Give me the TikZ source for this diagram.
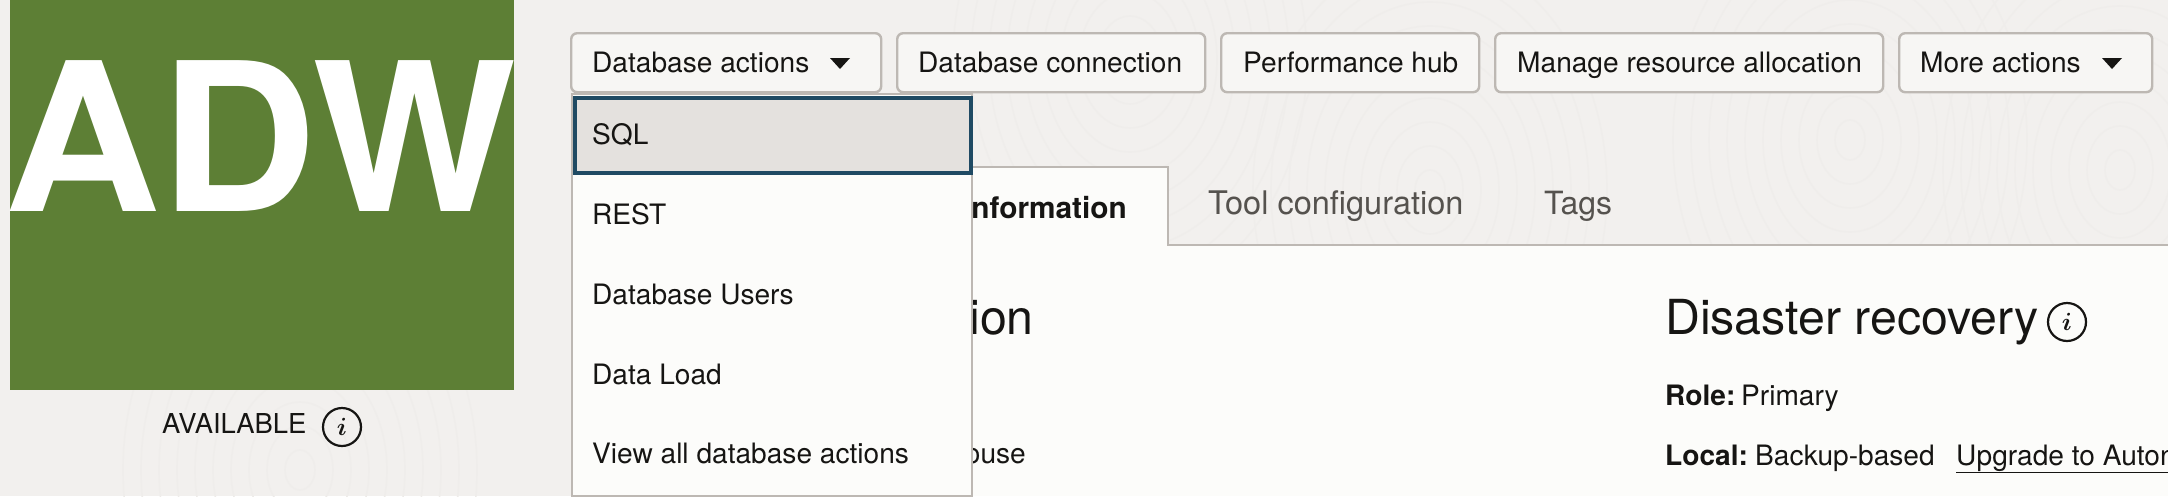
\documentclass[tikz,border=0pt]{standalone}
\usepackage{fontspec}
\setmainfont{TeX Gyre Heros}
\definecolor{pagebg}{HTML}{F2F0EE}
\definecolor{swirl}{HTML}{EDEBE8}
\definecolor{panelbg}{HTML}{FCFCFA}
\definecolor{btnbg}{HTML}{F7F6F4}
\definecolor{edge}{HTML}{BDB8B3}
\definecolor{adwgreen}{HTML}{5D7F35}
\definecolor{selbg}{HTML}{E4E1DE}
\definecolor{seledge}{HTML}{1F4A63}
\definecolor{ink}{HTML}{161513}
\definecolor{tabink}{HTML}{55524E}
\newcommand{\fsz}[1]{\fontsize{#1}{#1}\selectfont}
\tikzset{
	lbl/.style={anchor=base west,inner sep=0pt,text=ink,font=\fsz{28.1}},
	lblr/.style={lbl,anchor=base east},
	btn/.style={anchor=north west,draw=edge,fill=btnbg,line width=2.4pt,rounded corners=6pt,minimum height=59pt,inner sep=0pt},
	tri/.style={fill=ink},
	infoc/.style={circle,draw=ink,line width=2.2pt,minimum size=38pt,inner sep=0pt,font=\fsz{34}\boldmath,text=ink}
}
\begin{document}
\begin{tikzpicture}[x=1pt,y=-1pt]
\useasboundingbox (0,0) rectangle (2168,496);
\clip (0,0) rectangle (2168,496);
\fill[pagebg] (0,0) rectangle (2168,496);
% faint swirls of the page
\foreach \cx/\cy in {1430/190,1130/60,1850/140,300/470,2120/170}{
	\foreach \r in {20,44,...,236}
		\draw[swirl,line width=1.6pt] (\cx,\cy) ellipse[x radius=0.75*\r,y radius=\r];
}
\fill[pagebg,opacity=0.5] (0,0) rectangle (2168,496);

% badge
\node[anchor=north west,fill=adwgreen,minimum width=504pt,minimum height=390pt,inner sep=0pt] (badge) at (10,0) {};
\node[anchor=base west,inner sep=0pt,text=white,font=\fsz{207}\bfseries,xscale=1.045,transform shape] (adw) at (4,211) {ADW};
\node[lbl,font=\fsz{27.4}] (avail) at (162,433) {AVAILABLE};
\node[infoc] (availinfo) at (342,427) {$i$};

% buttons
\foreach \n/\x/\w in {a/570/310,b/896/308,c/1220/258,d/1494/388,e/1898/253}
	\node[btn,minimum width=\w pt] (btn\n) at (\x,32) {};
\foreach \n/\x/\t in {a/592/Database actions,b/918/Database connection,c/1243/Performance hub,d/1517/Manage resource allocation,e/1920/More actions}
	\node[lbl] (txt\n) at (\x,72) {\t};
\foreach \n/\x in {a/840,e/2112}
	\fill[tri] (\x-10,58)--(\x+10,58)--(\x,69)--cycle;

% tabs and panel
\fill[panelbg] (640,245) rectangle (2168,496);
\fill[panelbg] (640,167) rectangle (1168,245);
\draw[edge,line width=2pt] (640,167)--(1168,167)--(1168,245)--(2168,245);
\node[lblr,font=\fsz{29.8}\bfseries] (tabinfo) at (1127,218) {information};
\node[lbl,text=tabink,font=\fsz{32.5}] (tabtool) at (1208,214) {Tool configuration};
\node[lbl,text=tabink,font=\fsz{32}] (tabtags) at (1544,214) {Tags};

% panel text
\node[lblr,font=\fsz{48.3}] (headl) at (1034,334) {ion};
\node[lblr] (house) at (1026,463) {house};
\node[lbl,font=\fsz{48.3}] (headr) at (1665,334) {Disaster recovery};
\node[infoc] (drinfo) at (2067,322) {$i$};
\node[lbl,font=\fsz{28.1}\bfseries] (role) at (1665,405) {Role:};
\node[lbl] (roleval) at (1741,405) {Primary};
\node[lbl,font=\fsz{28.1}\bfseries] (local) at (1665,465) {Local:};
\node[lbl] (localval) at (1755,465) {Backup-based};
\node[lbl] (upg) at (1956,465) {\underline{Upgrade to Auton}};

% dropdown
\node[anchor=north west,draw=edge,fill=panelbg,line width=2pt,minimum width=400pt,minimum height=402pt,inner sep=0pt] (menu) at (571,93) {};
\node[anchor=north west,draw=seledge,fill=selbg,line width=4.2pt,minimum width=396pt,minimum height=75pt,inner sep=0pt] (sel) at (573,96) {};
\foreach \n/\y/\t in {sql/144/SQL,rest/224/REST,users/304/Database Users,load/384/Data Load,all/463/View all database actions}
	\node[lbl] (item\n) at (592,\y) {\t};
\end{tikzpicture}
\end{document}
